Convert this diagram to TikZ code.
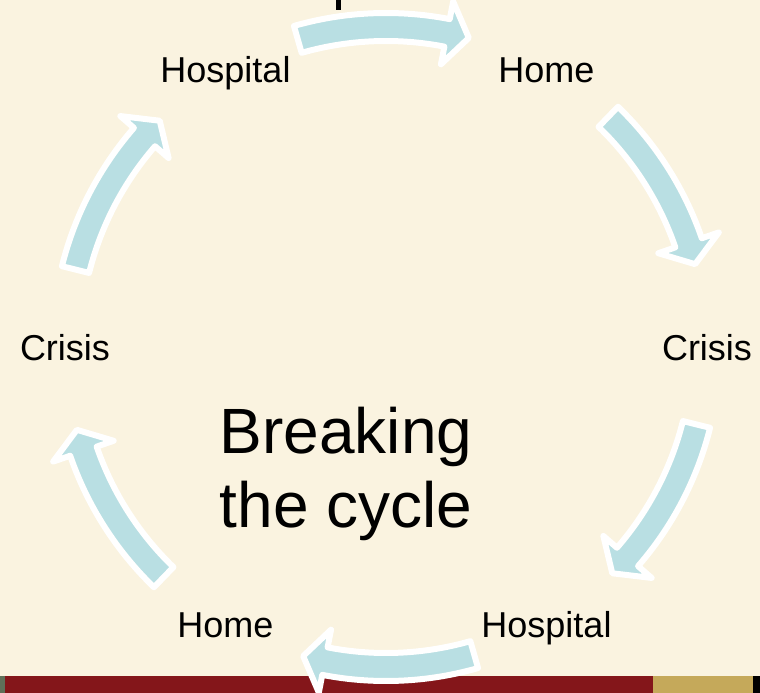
\documentclass[tikz,border=0pt]{standalone}
\usepackage{fontspec}
\setmainfont{Liberation Sans}
\usetikzlibrary{calc}
\definecolor{paper}{HTML}{FAF3E0}
\definecolor{loopblue}{HTML}{B9DFE3}
\definecolor{barred}{HTML}{84161A}
\definecolor{bartan}{HTML}{C5A95A}
\definecolor{bargreen}{HTML}{5F7059}

\begin{document}
\begin{tikzpicture}[x=1pt,y=1pt,
  stagelabel/.style={font=\fontsize{36}{43}\selectfont,inner sep=0pt,anchor=base},
  looparrow/.style={fill=loopblue,draw=white,line width=6pt,line join=round}]
\fill[paper] (-386,-346) rectangle (374,347);
\useasboundingbox (-386,-346) rectangle (374,347);
\coordinate (hub) at (0,0);
\fill[bargreen] (-386,-346) rectangle (-381,-329);
\fill[barred] (-381,-346) rectangle (267,-329);
\fill[bartan] (267,-346) rectangle (367,-329);
\fill[black] (367,-346) rectangle (374,-329);
\fill[black] (-50,337) rectangle (-45,347);
\foreach \m in {90,30,-30,-90,-150,150} {
  \pgfmathsetmacro{\tail}{\m+16}
  \pgfmathsetmacro{\head}{\m-11}
  \pgfmathsetmacro{\tip}{\m-15}
  \draw[looparrow] ($(hub)+(\tail:306)$) arc[start angle=\tail,end angle=\head,radius=306]
    -- ($(hub)+(\head:288)$) -- ($(hub)+(\tip:320)$) -- ($(hub)+(\head:352)$)
    -- ($(hub)+(\head:334)$) arc[start angle=\head,end angle=\tail,radius=334] -- cycle;
}
\foreach \s [count=\i from 0] in {Crisis,Home,Hospital,Crisis,Home,Hospital} {
  \pgfmathtruncatemacro{\ang}{60*\i}
  \node[stagelabel] (stage\i) at ($(hub)+(\ang:321)+(0,-13)$) {\s};
}
\node[font=\fontsize{64}{74}\selectfont,align=center,inner sep=0pt] (title) at (-40,-127) {Breaking\\the cycle};
\end{tikzpicture}
\end{document}
